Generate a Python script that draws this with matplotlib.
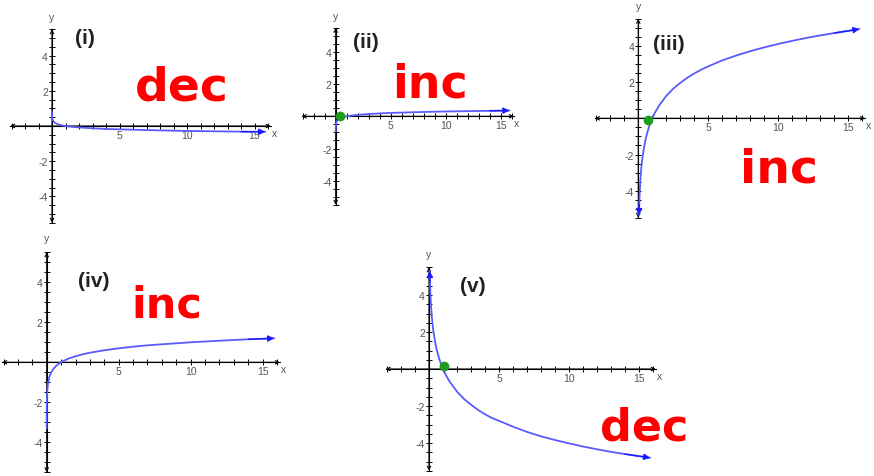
import matplotlib.pyplot as plt
from matplotlib.ticker import FixedLocator, FixedFormatter

W, H = 874, 477

# sampled points of the five log curves
x_i = [0.001, 0.005, 0.02, 0.05, 0.1, 0.2, 0.4, 0.7, 1, 1.5, 2, 3, 4, 5, 6, 8, 10, 12, 14, 15.8]
y_i = [0.83, 0.64, 0.47, 0.36, 0.28, 0.19, 0.11, 0.04, 0, -0.05, -0.08, -0.13, -0.17, -0.19, -0.21, -0.25, -0.28, -0.30, -0.32, -0.33]

x_ii = [0.001, 0.005, 0.02, 0.05, 0.1, 0.2, 0.4, 0.7, 1, 1.5, 2, 3, 4, 5, 6, 8, 10, 12, 14, 15.8]
y_ii = [-0.95, -0.70, -0.51, -0.39, -0.30, -0.21, -0.12, -0.05, 0, 0.05, 0.09, 0.14, 0.18, 0.21, 0.23, 0.27, 0.30, 0.32, 0.34, 0.36]

x_iii = [0.05, 0.07, 0.1, 0.12, 0.15, 0.2, 0.25, 0.3, 0.4, 0.5, 0.6, 0.75, 0.9, 1, 1.2, 1.5, 2, 2.5, 3, 3.5,
         4, 4.5, 5, 6, 7, 8, 9, 10, 11, 12, 13, 14, 15.8]
y_iii = [-5.35, -4.75, -4.11, -3.79, -3.39, -2.87, -2.48, -2.15, -1.64, -1.24, -0.91, -0.51, -0.19, 0, 0.33, 0.72,
         1.24, 1.64, 1.96, 2.24, 2.48, 2.69, 2.87, 3.20, 3.47, 3.71, 3.92, 4.11, 4.28, 4.44, 4.58, 4.71, 4.93]

x_iv = [0.0005, 0.001, 0.003, 0.01, 0.03, 0.05, 0.1, 0.2, 0.3, 0.4, 0.5, 0.7, 1, 1.2, 1.5, 2, 2.5, 3, 4, 5,
        6, 7, 8, 9, 10, 12, 14, 15.8]
y_iv = [-3.30, -3.00, -2.52, -2.00, -1.52, -1.30, -1.00, -0.70, -0.52, -0.40, -0.30, -0.15, 0, 0.08, 0.18, 0.30,
        0.40, 0.48, 0.60, 0.70, 0.78, 0.85, 0.90, 0.95, 1.00, 1.08, 1.15, 1.20]

x_v = [0.05, 0.07, 0.1, 0.12, 0.15, 0.2, 0.25, 0.3, 0.4, 0.5, 0.6, 0.75, 0.9, 1, 1.2, 1.5, 2, 2.5, 3, 3.5,
       4, 4.5, 5, 6, 7, 8, 9, 10, 11, 12, 13, 14, 15.8]
y_v = [5.30, 4.70, 4.05, 3.74, 3.35, 2.83, 2.45, 2.12, 1.62, 1.22, 0.90, 0.50, 0.19, 0, -0.33, -0.71,
       -1.22, -1.62, -1.93, -2.21, -2.45, -2.65, -2.80, -3.12, -3.40, -3.64, -3.84, -4.02, -4.19, -4.34,
       -4.48, -4.60, -4.80]

# green points marked on the x-intercept
dot_ii = (0.4, 0.0)
dot_iii = (0.7, -0.07)
dot_v = (1.1, 0.18)

labels = ['(i)', '(ii)', '(iii)', '(iv)', '(v)']
notes = ['dec', 'inc', 'inc', 'inc', 'dec']

x_major = [5, 10, 15]
x_major_text = ['5', '10', '15']
x_minor = [-3, -2, -1, 1, 2, 3, 4, 6, 7, 8, 9, 11, 12, 13, 14, 16]
y_major = [-4, -2, 2, 4]
y_major_text = ['-4', '-2', '2', '4']
y_minor = [-5.5, -5, -4.5, -3.5, -3, -2.5, -1.5, -1, -0.5, 0.5, 1, 1.5, 2.5, 3, 3.5, 4.5, 5, 5.5]

CURVE = '#5a5aff'
HEAD = '#1a1aff'
GRAY = '#555555'

fig = plt.figure(figsize=(W / 100, H / 100), dpi=100)


def panel(ox, oy, sx, sy, xs, ys, label, label_xy, heads, dot=None):
    x0, x1, y0, y1 = -3.6, 17.2, -6.0, 6.0
    left, right = ox + x0 * sx, ox + x1 * sx
    top, bottom = oy - y1 * sy, oy - y0 * sy
    ax = fig.add_axes([left / W, 1 - bottom / H, (right - left) / W, (bottom - top) / H])
    ax.set_xlim(x0, x1)
    ax.set_ylim(y0, y1)
    ax.patch.set_alpha(0)
    ax.spines['top'].set_visible(False)
    ax.spines['right'].set_visible(False)
    ax.spines['left'].set_position(('data', 0))
    ax.spines['bottom'].set_position(('data', 0))
    ax.spines['bottom'].set_bounds(-3.1, 16.2)
    ax.spines['left'].set_bounds(-5.5, 5.5)
    for s in ('left', 'bottom'):
        ax.spines[s].set_linewidth(0.8)

    ax.xaxis.set_major_locator(FixedLocator(x_major))
    ax.xaxis.set_major_formatter(FixedFormatter(x_major_text))
    ax.xaxis.set_minor_locator(FixedLocator(x_minor))
    ax.yaxis.set_major_locator(FixedLocator(y_major))
    ax.yaxis.set_major_formatter(FixedFormatter(y_major_text))
    ax.yaxis.set_minor_locator(FixedLocator(y_minor))
    ax.tick_params(which='both', direction='inout', length=4, width=0.7,
                   labelsize=7.5, labelcolor=GRAY, pad=1)
    for t in ax.get_xticklabels() + ax.get_yticklabels():
        t.set_family('Liberation Sans')

    # axis arrows
    arrow = dict(arrowstyle='<->', color='black', lw=0.8, shrinkA=0, shrinkB=0,
                 mutation_scale=6)
    ax.annotate('', xy=(16.2, 0), xytext=(-3.1, 0), arrowprops=arrow)
    ax.annotate('', xy=(0, 5.5), xytext=(0, -5.5), arrowprops=arrow)
    ax.text(16.45, -0.1, 'x', color=GRAY, fontsize=7.5, family='Liberation Sans',
            ha='center', va='top')
    ax.text(0, 6.2, 'y', color=GRAY, fontsize=7.5, family='Liberation Sans',
            ha='center', va='center')

    ax.plot(xs, ys, color=CURVE, lw=1.3, zorder=3, solid_capstyle='round',
            solid_joinstyle='round')
    head = dict(arrowstyle='-|>', color=HEAD, lw=1, mutation_scale=9,
                shrinkA=0, shrinkB=0)
    if 'end' in heads:
        ax.annotate('', xy=(xs[-1], ys[-1]), xytext=(xs[-2], ys[-2]),
                    arrowprops=head, zorder=4)
    if 'start' in heads:
        ax.annotate('', xy=(xs[0], ys[0]), xytext=(xs[1], ys[1]),
                    arrowprops=head, zorder=4)
    if dot is not None:
        ax.plot([dot[0]], [dot[1]], 'o', color='#1e9c1e', ms=6, zorder=5)

    fig.text(label_xy[0] / W, 1 - label_xy[1] / H, label, fontsize=15,
             fontweight='bold', family='Liberation Sans', color='#222222',
             ha='center', va='center')
    return ax


panel(52, 127, 13.5, 17.6, x_i, y_i, labels[0], (85, 39), ['end'])
panel(335.7, 117.3, 11.0, 16.1, x_ii, y_ii, labels[1], (366, 43), ['end'], dot_ii)
panel(638.3, 119.3, 14.0, 18.1, x_iii, y_iii, labels[2], (669, 44), ['end', 'start'], dot_iii)
panel(46.7, 363.3, 14.4, 20.0, x_iv, y_iv, labels[3], (94, 282), ['end'])
panel(429, 370, 14.0, 18.5, x_v, y_v, labels[4], (473, 287), ['end', 'start'], dot_v)

# red handwritten notes
note_pos = [(182, 88), (430, 85), (779, 170), (167, 306), (644, 428)]
note_size = [34, 33, 34, 31, 32]
for txt, (px, py), fs in zip(notes, note_pos, note_size):
    fig.text(px / W, 1 - py / H, txt, fontsize=fs, fontweight='bold',
             family='DejaVu Sans', color='#ff0000', ha='center', va='center')

fig.savefig('out.png', dpi=100)
